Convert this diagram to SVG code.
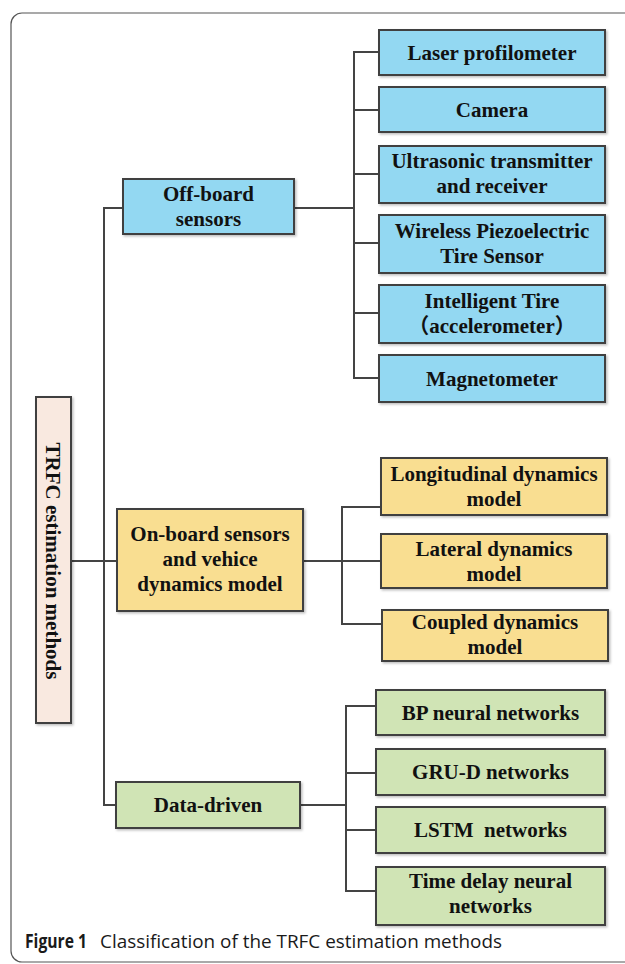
<svg xmlns="http://www.w3.org/2000/svg" width="625" height="964" viewBox="0 0 625 964">
<defs>
<filter id="sh" x="-10%" y="-10%" width="130%" height="140%">
<feDropShadow dx="1.5" dy="1.5" stdDeviation="1" flood-color="#000" flood-opacity="0.25"/>
</filter>
</defs>
<style>
.box{stroke:#3f3f3f;stroke-width:2;filter:url(#sh)}
.blue{fill:#93d8f2}
.yel{fill:#f9de91}
.grn{fill:#d0e4b5}
.root{fill:#f9e9e0}
.t{font-family:"Liberation Serif","Noto Sans CJK SC",serif;font-weight:bold;font-size:21px;fill:#111;text-anchor:middle}
.c{fill:none;stroke:#444;stroke-width:2}
.cap{font-family:"Open Sans","Noto Sans",sans-serif;font-size:19px;fill:#1a1a1a}
</style>
<rect x="11" y="13" width="640" height="949" rx="11" fill="none" stroke="#555" stroke-width="1.2"/>

<g id="connectors">
<path class="c" d="M71,561 H117"/>
<path class="c" d="M123,208 H104 V805 H116"/>
<path class="c" d="M294,208 H354"/>
<path class="c" d="M379,52 H354 V378 H379"/>
<path class="c" d="M354,110 H379 M354,174 H379 M354,243 H379 M354,313 H379"/>
<path class="c" d="M303,561 H381"/>
<path class="c" d="M381,507 H342 V624 H382"/>
<path class="c" d="M300,805 H346"/>
<path class="c" d="M376,706 H346 V891 H376"/>
<path class="c" d="M346,773 H376 M346,830 H376"/>
</g>

<g id="root">
<rect class="box root" x="36" y="397" width="35" height="326"/>
<text class="t" x="53" y="568" transform="rotate(90 53 561)">TRFC estimation methods</text>
</g>

<g id="offboard">
<rect class="box blue" x="123" y="179" width="171" height="55"/>
<text class="t" x="208.5" y="201">Off-board</text>
<text class="t" x="208.5" y="226">sensors</text>
</g>
<g id="laser">
<rect class="box blue" x="379" y="30" width="226" height="45"/>
<text class="t" x="492" y="60">Laser profilometer</text>
</g>
<g id="camera">
<rect class="box blue" x="379" y="87" width="226" height="45"/>
<text class="t" x="492" y="117">Camera</text>
</g>
<g id="ultrasonic">
<rect class="box blue" x="379" y="146" width="226" height="57"/>
<text class="t" x="492" y="168">Ultrasonic transmitter</text>
<text class="t" x="492" y="193">and receiver</text>
</g>
<g id="wireless">
<rect class="box blue" x="379" y="215" width="226" height="58"/>
<text class="t" x="492" y="238">Wireless Piezoelectric</text>
<text class="t" x="492" y="263">Tire Sensor</text>
</g>
<g id="intelligent">
<rect class="box blue" x="379" y="285" width="226" height="58"/>
<text class="t" x="492" y="308">Intelligent Tire</text>
<text class="t" x="492" y="333">（accelerometer）</text>
</g>
<g id="magnetometer">
<rect class="box blue" x="379" y="355" width="226" height="47"/>
<text class="t" x="492" y="386">Magnetometer</text>
</g>

<g id="onboard">
<rect class="box yel" x="117" y="509" width="186" height="102"/>
<text class="t" x="210" y="541">On-board sensors</text>
<text class="t" x="210" y="566">and vehice</text>
<text class="t" x="210" y="591">dynamics model</text>
</g>
<g id="longitudinal">
<rect class="box yel" x="381" y="458" width="226" height="57"/>
<text class="t" x="494" y="481">Longitudinal dynamics</text>
<text class="t" x="494" y="506">model</text>
</g>
<g id="lateral">
<rect class="box yel" x="381" y="534" width="226" height="54"/>
<text class="t" x="494" y="556">Lateral dynamics</text>
<text class="t" x="494" y="581">model</text>
</g>
<g id="coupled">
<rect class="box yel" x="382" y="610" width="226" height="51"/>
<text class="t" x="495" y="629">Coupled dynamics</text>
<text class="t" x="495" y="654">model</text>
</g>

<g id="datadriven">
<rect class="box grn" x="116" y="782" width="184" height="46"/>
<text class="t" x="208" y="812">Data-driven</text>
</g>
<g id="bp">
<rect class="box grn" x="376" y="690" width="229" height="45"/>
<text class="t" x="490.5" y="720">BP neural networks</text>
</g>
<g id="grud">
<rect class="box grn" x="376" y="749" width="229" height="46"/>
<text class="t" x="490.5" y="779">GRU-D networks</text>
</g>
<g id="lstm">
<rect class="box grn" x="376" y="807" width="229" height="46"/>
<text class="t" x="490.5" y="837" xml:space="preserve">LSTM  networks</text>
</g>
<g id="timedelay">
<rect class="box grn" x="376" y="867" width="229" height="58"/>
<text class="t" x="490.5" y="888">Time delay neural</text>
<text class="t" x="490.5" y="913">networks</text>
</g>

<text class="cap" x="25" y="948" font-weight="bold" textLength="62" lengthAdjust="spacingAndGlyphs">Figure 1</text>
<text class="cap" x="100" y="948" textLength="402" lengthAdjust="spacingAndGlyphs">Classification of the TRFC estimation methods</text>
</svg>
